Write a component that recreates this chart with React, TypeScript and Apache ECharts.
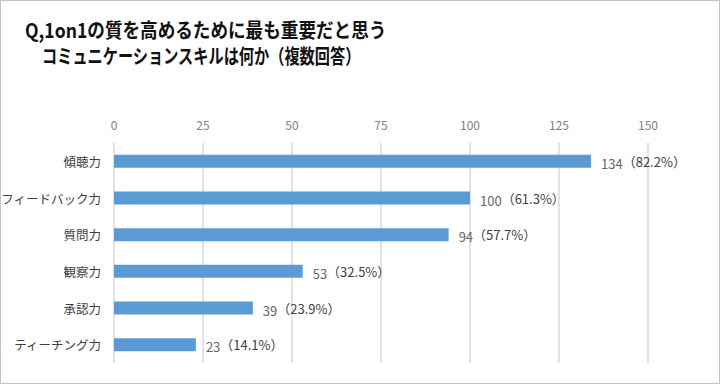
import React, { useEffect, useRef } from "react";
import * as echarts from "echarts";

const categories = ["傾聴力", "フィードバック力", "質問力", "観察力", "承認力", "ティーチング力"];
const counts = [134, 100, 94, 53, 39, 23];
const percents = ["82.2", "61.3", "57.7", "32.5", "23.9", "14.1"];
const titleLines = ["Q,1on1の質を高めるために最も重要だと思う", "コミュニケーションスキルは何か（複数回答）"];

const FONT = "'Noto Sans CJK JP', 'Noto Sans', sans-serif";

export default function App() {
  const ref = useRef<HTMLDivElement>(null);
  useEffect(() => {
    if (!ref.current) return;
    const chart = echarts.init(ref.current, null, { renderer: "svg" });
    chart.setOption({
      animation: false,
      backgroundColor: "#ffffff",
      textStyle: { fontFamily: FONT },
      graphic: [
        {
          type: "rect",
          shape: { x: 0.5, y: 0.5, width: 719, height: 383 },
          style: { fill: "none", stroke: "#c4c4c4", lineWidth: 1 },
          silent: true,
        },
        {
          type: "text",
          x: 25,
          y: 29,
          scaleX: 0.88,
          style: {
            text: titleLines[0],
            font: `bold 20px ${FONT}`,
            fill: "#111111",
            verticalAlign: "middle",
          },
        },
        {
          type: "text",
          x: 42,
          y: 55,
          scaleX: 0.76,
          style: {
            text: titleLines[1],
            font: `bold 20px ${FONT}`,
            fill: "#111111",
            verticalAlign: "middle",
          },
        },
      ],
      grid: { left: 114, right: 72, top: 143, bottom: 21, containLabel: false, outerBoundsMode: "none" },
      xAxis: {
        type: "value",
        position: "top",
        min: 0,
        max: 150,
        interval: 25,
        axisLine: { show: false },
        axisTick: { show: false },
        axisLabel: { color: "#808080", fontSize: 12, margin: 13, fontFamily: FONT },
        splitLine: { lineStyle: { color: "#d9d9d9", width: 1.5 } },
      },
      yAxis: {
        type: "category",
        data: categories,
        inverse: true,
        axisLine: { show: false },
        axisTick: { show: false },
        axisLabel: { color: "#404040", fontSize: 12.5, margin: 13, fontFamily: FONT },
      },
      series: [
        {
          type: "bar",
          data: counts,
          barWidth: 13,
          itemStyle: { color: "#5b9bd5" },
          label: {
            show: true,
            position: "right",
            distance: 10,
            formatter: (p: any) => `{a|${p.value}}{b|（${percents[p.dataIndex]}%）}`,
            rich: {
              a: { color: "#666666", fontSize: 13, fontFamily: FONT, padding: [4, 0, 0, 0] },
              b: { color: "#404040", fontSize: 13, fontFamily: FONT },
            },
          },
        },
      ],
    });
    return () => chart.dispose();
  }, []);
  return <div ref={ref} style={{ position: "fixed", left: 0, top: 0, width: 720, height: 384 }} />;
}
